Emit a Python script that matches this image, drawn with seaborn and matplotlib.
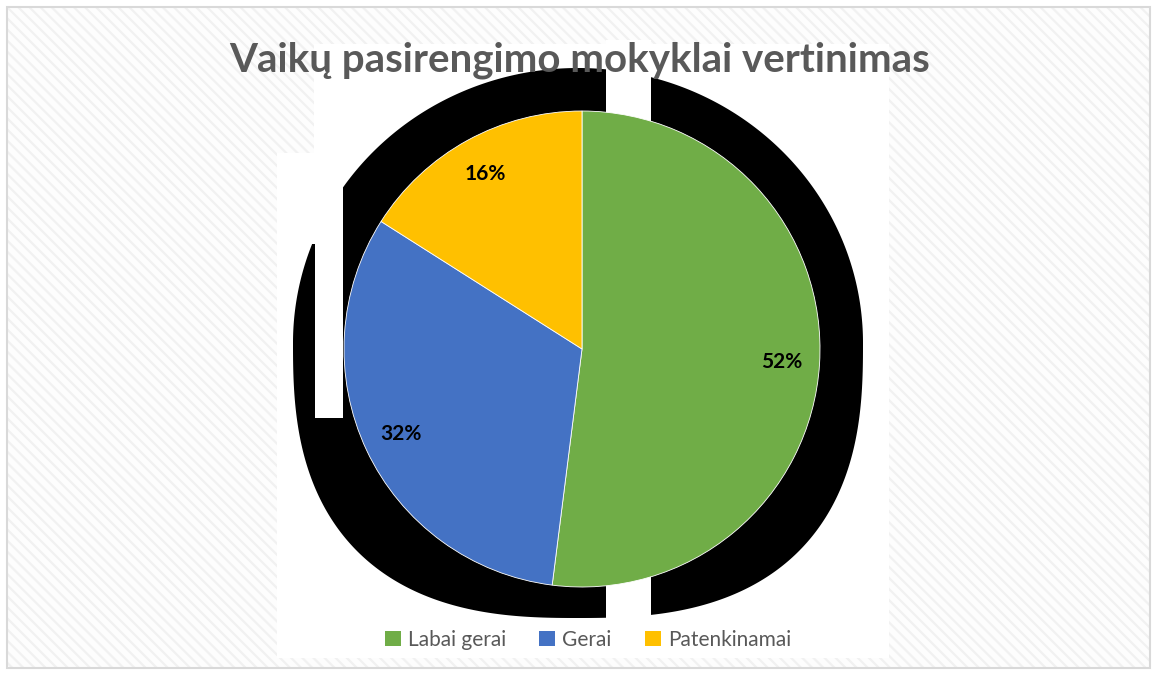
import numpy as np
import matplotlib
matplotlib.use("Agg")
import matplotlib.pyplot as plt
from matplotlib.patches import Rectangle, Polygon, Patch
import seaborn as sns

# ---- data ----
categories = ["Labai gerai", "Gerai", "Patenkinamai"]
values = [52, 32, 16]
pct_labels = ["52%", "32%", "16%"]
colors = ["#70AD47", "#4472C4", "#FFC000"]
title = "Vaikų pasirengimo mokyklai vertinimas"

sns.set_theme(style="white")
plt.rcParams["font.family"] = ["Lato", "DejaVu Sans"]
plt.rcParams["hatch.linewidth"] = 1.6

W, H = 1157, 675
fig = plt.figure(figsize=(W / 100, H / 100), dpi=100)
fig.patch.set_facecolor("white")

# background axes in pixel coordinates
bg = fig.add_axes([0, 0, 1, 1])
bg.set_xlim(0, W)
bg.set_ylim(H, 0)
bg.axis("off")

# hatched slide background
bg.add_patch(Rectangle((7, 7), W - 14, H - 14, facecolor="#fdfdfd",
                       edgecolor="#f1f1f1", hatch="\\\\\\", linewidth=0, zorder=0))
bg.add_patch(Rectangle((7, 7), W - 14, H - 14, facecolor="none",
                       edgecolor="#d9d9d9", linewidth=1.5, zorder=6))
# white chart areas
bg.add_patch(Rectangle((314, 44), 889 - 314, 658 - 44, facecolor="white", linewidth=0, zorder=1))
bg.add_patch(Rectangle((277, 153), 314 - 277 + 1, 658 - 153, facecolor="white", linewidth=0, zorder=1))

# dark shadow artefact behind the pie
t = np.linspace(0, 2 * np.pi, 600)
cx, cy, a, b = 578, 343, 285, 275
n = np.where(np.sin(t) < 0, 2.0, 2.6)
sx = cx + a * np.sign(np.cos(t)) * np.abs(np.cos(t)) ** (2 / n)
sy = cy + b * np.sign(np.sin(t)) * np.abs(np.sin(t)) ** (2 / n)
bg.add_patch(Polygon(np.column_stack([sx, sy]), closed=True, facecolor="black",
                     linewidth=0, zorder=2))
# white gaps in the shadow
bg.add_patch(Rectangle((606, 40), 651 - 606, 625 - 40, facecolor="white", linewidth=0, zorder=3))
bg.add_patch(Rectangle((315, 153), 343 - 315, 418 - 153, facecolor="white", linewidth=0, zorder=3))
bg.add_patch(Rectangle((277, 153), 315 - 277, 244 - 153, facecolor="white", linewidth=0, zorder=3))

# pie axes
r_px = 238
pcx, pcy = 582, 349
pax = fig.add_axes([(pcx - r_px) / W, (H - pcy - r_px) / H, 2 * r_px / W, 2 * r_px / H])
pax.set_zorder(5)
pax.patch.set_alpha(0)
wedges, _ = pax.pie(values, colors=colors, startangle=90, counterclock=False,
                    radius=1, wedgeprops=dict(edgecolor="white", linewidth=0.6))
pax.set_xlim(-1, 1)
pax.set_ylim(-1, 1)
pax.set_aspect("equal")
pax.axis("off")

# percentage labels
angle = 90.0
for v, lab in zip(values, pct_labels):
    span = v / sum(values) * 360
    mid = np.deg2rad(angle - span / 2)
    angle -= span
    pax.text(0.84 * np.cos(mid), 0.84 * np.sin(mid), lab, ha="center", va="center",
             fontsize=15, fontweight="bold", color="black")

# title
fig.text(580 / W, 1 - 60 / H, title, ha="center", va="center", fontsize=29,
         fontweight="bold", color="#595959", zorder=10)

# legend
handles = [Patch(facecolor=c, edgecolor="none") for c in colors]
leg = fig.legend(handles, categories, loc="center", bbox_to_anchor=(588 / W, 1 - 640 / H),
                 ncol=3, frameon=False, fontsize=15, handlelength=0.75, handleheight=0.75,
                 handletextpad=0.35, columnspacing=1.6, labelcolor="#595959")

fig.savefig("out.png", dpi=100)
